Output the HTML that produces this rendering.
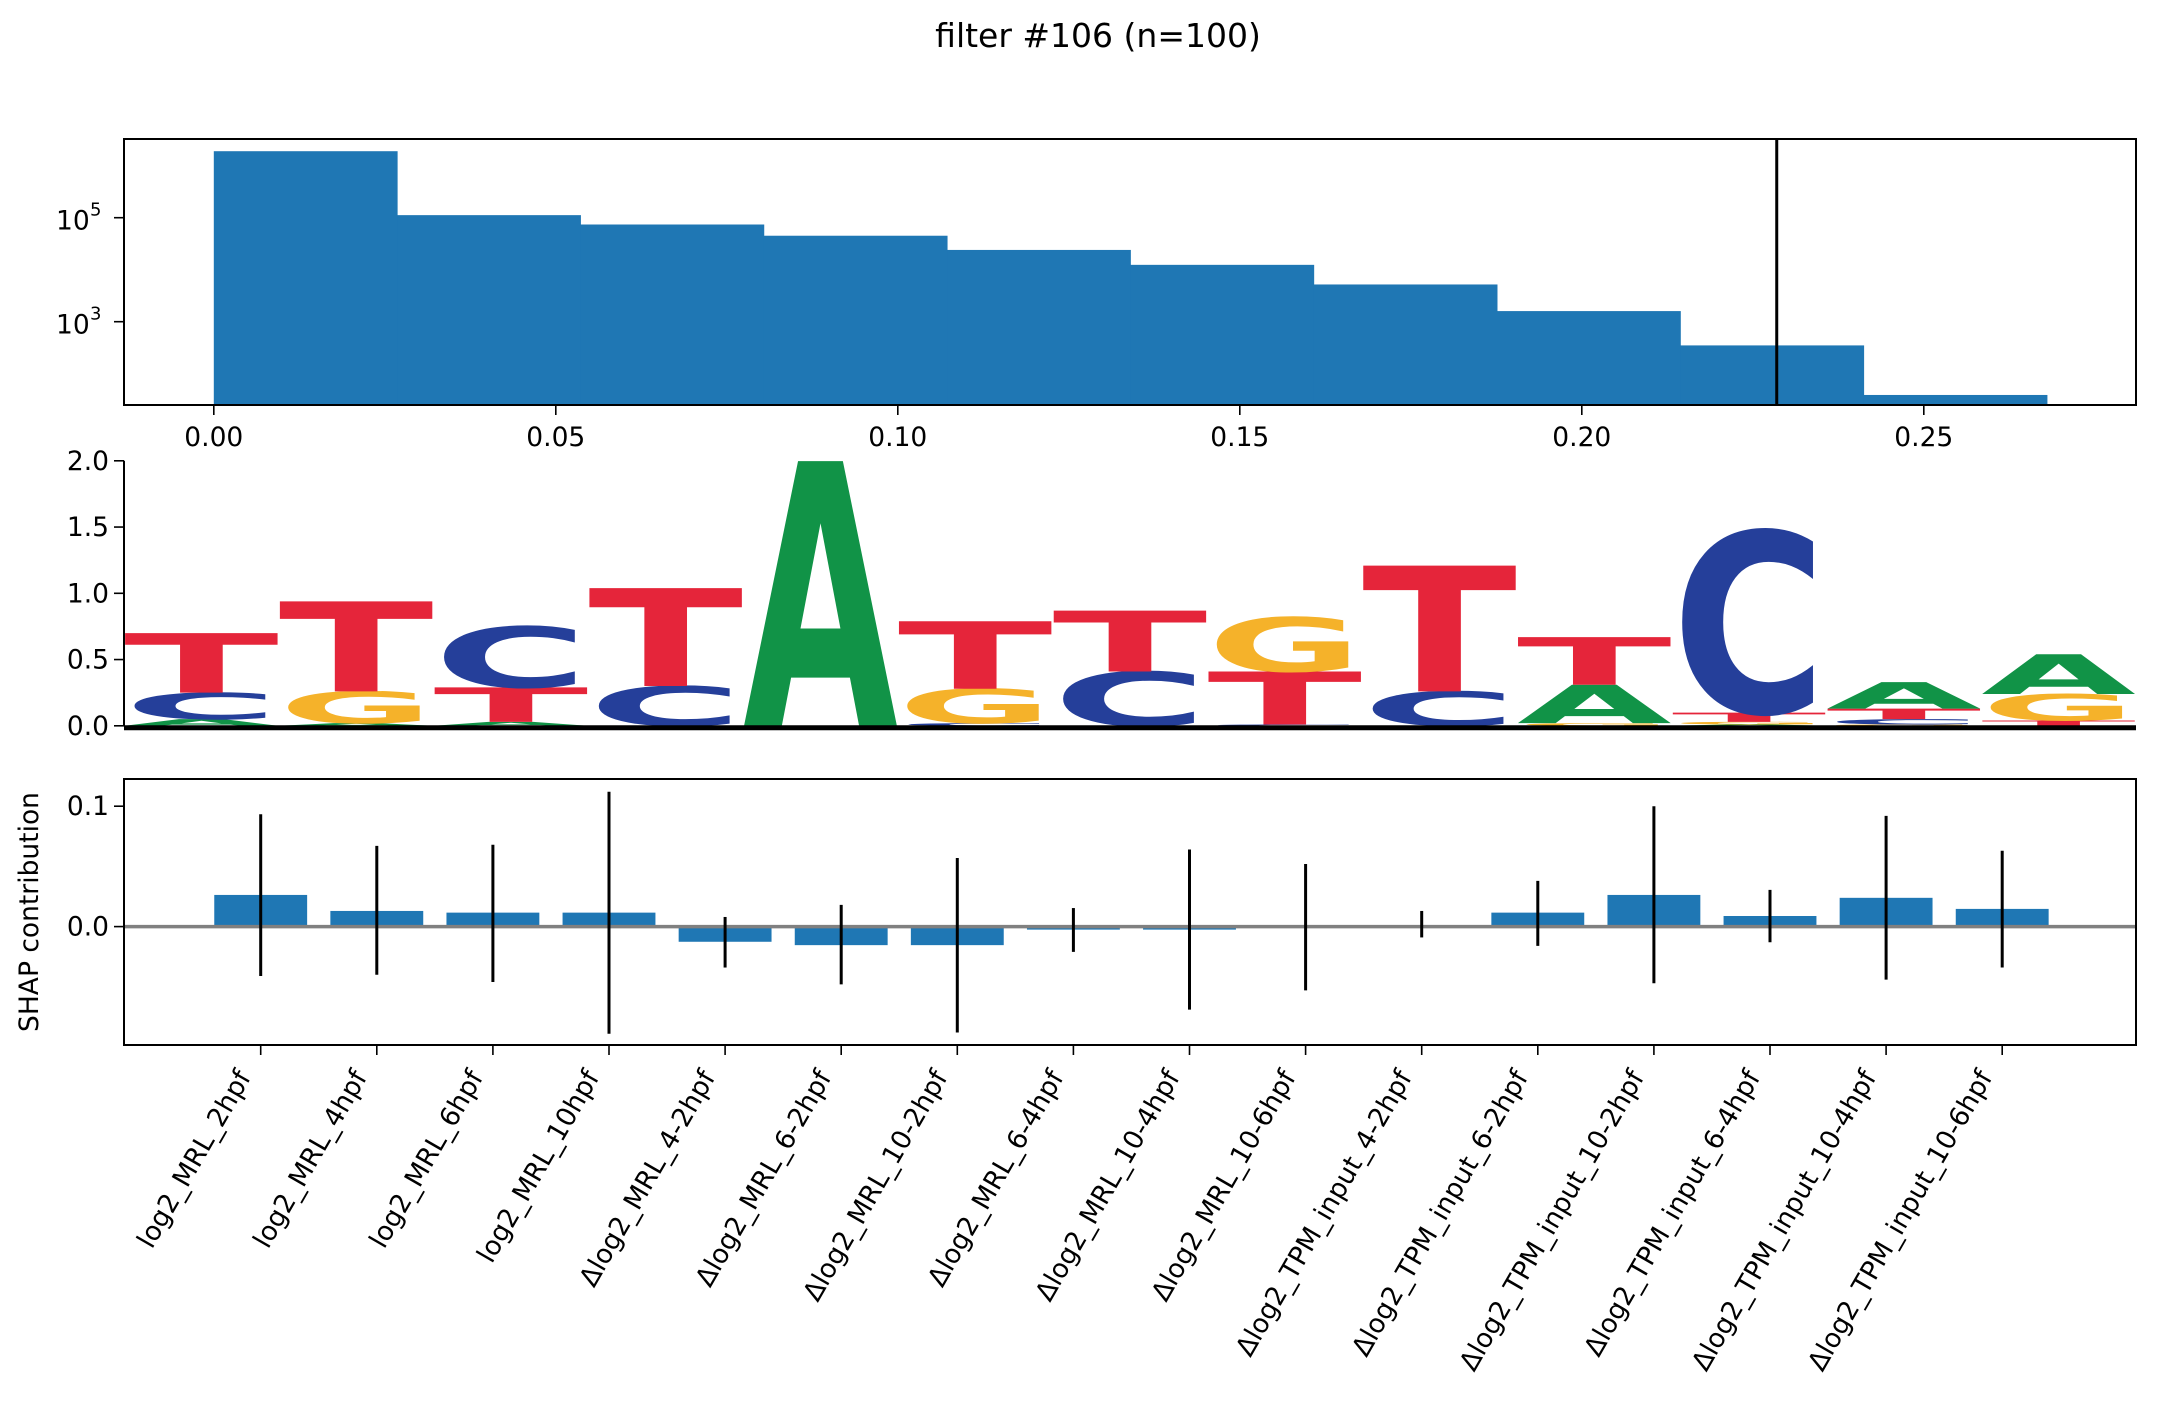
<!DOCTYPE html>
<html><head><meta charset="utf-8"><style>
html,body{margin:0;padding:0;background:#fff}
svg{display:block}
text{font-family:"DejaVu Sans","Liberation Sans",sans-serif;fill:#000}
</style></head><body>
<svg id="fig" width="2157" height="1409" viewBox="0 0 2157 1409" xmlns="http://www.w3.org/2000/svg">
<text x="1098" y="47" font-size="33" text-anchor="middle">filter #106 (n=100)</text>
<g id="hist"></g>
<g id="logo"></g>
<g id="shap"></g>
</svg>
<script>
// ---------- data ----------
const histEdges = [0, 0.0268, 0.0536, 0.0804, 0.1072, 0.134, 0.1608, 0.1876, 0.2144, 0.2412, 0.268];
const histCounts = [1.9e6, 1.12e5, 7.4e4, 4.5e4, 2.4e4, 1.24e4, 5.2e3, 1.6e3, 350, 39];
const histThreshold = 0.2285;
const histXTicks = [0, 0.05, 0.10, 0.15, 0.20, 0.25];
const histXTickLabels = ["0.00", "0.05", "0.10", "0.15", "0.20", "0.25"];
const histYTicks = [3, 5];

const logoColumns = [
  [["A",0.05],["C",0.20],["T",0.45]],
  [["A",0.02],["G",0.24],["T",0.68]],
  [["A",0.03],["T",0.26],["C",0.46]],
  [["C",0.30],["T",0.74]],
  [["A",2.0]],
  [["C",0.02],["G",0.26],["T",0.51]],
  [["C",0.41],["T",0.46]],
  [["C",0.01],["T",0.40],["G",0.41]],
  [["C",0.26],["T",0.95]],
  [["G",0.02],["A",0.29],["T",0.36]],
  [["A",0.01],["G",0.02],["T",0.07],["C",1.37]],
  [["G",0.01],["C",0.04],["T",0.08],["A",0.20]],
  [["T",0.04],["G",0.20],["A",0.30]]
];
const logoYTicks = [0, 0.5, 1.0, 1.5, 2.0];
const logoYTickLabels = ["0.0", "0.5", "1.0", "1.5", "2.0"];

const shapCategories = ["log2_MRL_2hpf","log2_MRL_4hpf","log2_MRL_6hpf","log2_MRL_10hpf","Δlog2_MRL_4-2hpf","Δlog2_MRL_6-2hpf","Δlog2_MRL_10-2hpf","Δlog2_MRL_6-4hpf","Δlog2_MRL_10-4hpf","Δlog2_MRL_10-6hpf","Δlog2_TPM_input_4-2hpf","Δlog2_TPM_input_6-2hpf","Δlog2_TPM_input_10-2hpf","Δlog2_TPM_input_6-4hpf","Δlog2_TPM_input_10-4hpf","Δlog2_TPM_input_10-6hpf"];
const shapValues = [0.0263,0.013,0.0116,0.0116,-0.0126,-0.0154,-0.0154,-0.0025,-0.0025,0,0,0.0116,0.0263,0.0088,0.0239,0.0147];
const shapUpper = [0.0933,0.067,0.068,0.112,0.008,0.018,0.057,0.0154,0.064,0.052,0.013,0.038,0.100,0.0305,0.092,0.063];
const shapLower = [-0.041,-0.040,-0.046,-0.089,-0.034,-0.048,-0.088,-0.021,-0.069,-0.053,-0.009,-0.016,-0.047,-0.013,-0.044,-0.034];
const shapYTicks = [0, 0.1];
const shapYTickLabels = ["0.0", "0.1"];

// ---------- helpers ----------
const NS = "http://www.w3.org/2000/svg";
function mk(parent, tag, attrs, txt){
  const e = document.createElementNS(NS, tag);
  for (const k in attrs) e.setAttribute(k, attrs[k]);
  if (txt !== undefined) e.textContent = txt;
  parent.appendChild(e);
  return e;
}
const L = 124, R = 2136;
const FS = 26.5;

// ---------- histogram ----------
(function(){
  const g = document.getElementById('hist');
  const T = 139, B = 405;
  const x = v => 213.8 + v / 0.05 * 342;
  const y10_5 = 217.7, dec = 52;
  const y = c => y10_5 - (Math.log10(c) - 5) * dec;
  for (let i = 0; i < histCounts.length; i++) {
    const x0 = x(histEdges[i]), x1 = x(histEdges[i+1]);
    const r = mk(g, 'rect', {x: x0, y: y(histCounts[i]), width: x1 - x0 + 0.5, height: B - y(histCounts[i]), fill: '#1f77b4'});
    
    
  }
  const th = mk(g, 'line', {x1: x(histThreshold), x2: x(histThreshold), y1: T, y2: B, stroke: '#000', 'stroke-width': 3});
  
  
  const fr = mk(g, 'rect', {x: L, y: T, width: R - L, height: B - T, fill: 'none', stroke: '#000', 'stroke-width': 2});
  
  
  histXTicks.forEach((v, i) => {
    mk(g, 'line', {x1: x(v), x2: x(v), y1: B, y2: B + 10, stroke: '#000', 'stroke-width': 1.6});
    const t = mk(g, 'text', {x: x(v), y: B + 41, 'font-size': FS, 'text-anchor': 'middle'}, histXTickLabels[i]);
    
    
  });
  histYTicks.forEach(p => {
    const yy = y(Math.pow(10, p));
    mk(g, 'line', {x1: L - 10, x2: L, y1: yy, y2: yy, stroke: '#000', 'stroke-width': 1.6});
    const t = mk(g, 'text', {x: 56, y: yy + 12, 'font-size': FS}, '10');
    
    
    mk(g, 'text', {x: 90, y: yy - 2, 'font-size': 18}, String(p));
  });
})();

// ---------- logo ----------
(function(){
  const g = document.getElementById('logo');
  const y0 = 725.8, per = 132.5;
  const colW = (R - L) / 13;
  const xc = i => L + (i + 0.5) * colW;
  const y = v => y0 - v * per;
  const cols2 = {A:'#119347', C:'#253f9a', G:'#f5b22a', T:'#e5253a'};
  logoColumns.forEach((col, i) => {
    let acc = 0;
    const w = colW * 1.0;
    col.forEach(([ch, h]) => {
      const yb = y(acc), yt = y(acc + h);
      const sy = (yb - yt) / 73;
      const t = mk(g, 'text', {
        transform: `translate(${xc(i) - w/2},${yb}) scale(1,${sy})`,
        x: 0, y: 0, 'font-size': 100, 'font-weight': 'bold',
        textLength: w, lengthAdjust: 'spacingAndGlyphs',
        style: `font-family:'DejaVu Sans',sans-serif;fill:${cols2[ch]}`
      }, ch);
      
      
      acc += h;
    });
  });
  mk(g, 'line', {x1: L, x2: R, y1: y0 + 2, y2: y0 + 2, stroke: '#000', 'stroke-width': 5});
  mk(g, 'line', {x1: L, x2: L, y1: y(2.0), y2: y0, stroke: '#000', 'stroke-width': 2});
  logoYTicks.forEach((v, i) => {
    mk(g, 'line', {x1: L - 10, x2: L, y1: y(v), y2: y(v), stroke: '#000', 'stroke-width': 1.6});
    const t = mk(g, 'text', {x: L - 15, y: y(v) + 9, 'font-size': FS, 'text-anchor': 'end'}, logoYTickLabels[i]);
    
    
  });
})();

// ---------- SHAP ----------
(function(){
  const g = document.getElementById('shap');
  const T = 779, B = 1045;
  const y = v => 926.6 - v * 1204;
  const x = i => 260.7 + i * 116.1;
  const bw = 0.8 * 116.1;
  shapValues.forEach((v, i) => {
    const r = mk(g, 'rect', {x: x(i) - bw/2, y: Math.min(y(0), y(v)), width: bw, height: Math.abs(y(v) - y(0)), fill: '#1f77b4'});
    
    
  });
  mk(g, 'line', {x1: L, x2: R, y1: y(0), y2: y(0), stroke: '#808080', 'stroke-width': 3.5});
  shapValues.forEach((v, i) => {
    const e = mk(g, 'line', {x1: x(i), x2: x(i), y1: y(shapUpper[i]), y2: y(shapLower[i]), stroke: '#000', 'stroke-width': 3});
    
    
  });
  const fr = mk(g, 'rect', {x: L, y: T, width: R - L, height: B - T, fill: 'none', stroke: '#000', 'stroke-width': 2});
  
  
  shapYTicks.forEach((v, i) => {
    mk(g, 'line', {x1: L - 10, x2: L, y1: y(v), y2: y(v), stroke: '#000', 'stroke-width': 1.6});
    const t = mk(g, 'text', {x: L - 15, y: y(v) + 9, 'font-size': FS, 'text-anchor': 'end'}, shapYTickLabels[i]);
    
    
  });
  shapCategories.forEach((c, i) => {
    mk(g, 'line', {x1: x(i), x2: x(i), y1: B, y2: B + 10, stroke: '#000', 'stroke-width': 1.6});
    const ax = x(i) - 9, ay = 1077;
    const t = mk(g, 'text', {x: ax, y: ay, 'font-size': FS, 'text-anchor': 'end', transform: `rotate(-60 ${ax} ${ay})`}, c);
    
    
  });
  const yl = mk(g, 'text', {x: 38, y: 912, 'font-size': FS, 'text-anchor': 'middle', transform: 'rotate(-90 38 912)'}, 'SHAP contribution');
  
  
})();
</script>
</body></html>
